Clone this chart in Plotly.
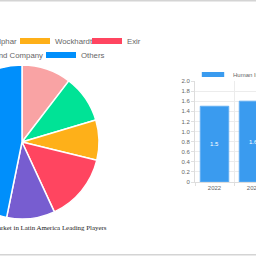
import plotly.graph_objects as go

# ---- data ----
pie_labels = ["Novo Nordisk", "Julphar", "Wockhardt", "Exir", "Eli Lilly and Company", "Others"]
pie_values = [10.4, 10.0, 8.4, 14.3, 10.1, 46.8]
pie_colors = ["#F9A3A4", "#00E396", "#FEB019", "#FF4560", "#775DD0", "#008FFB"]

bar_years = ["2022", "2023"]
bar_values = [1.5, 1.6]
bar_name = "Human Insulin Market"
y_tickvals = [0, 0.2, 0.4, 0.6, 0.8, 1.0, 1.2, 1.4, 1.6, 1.8, 2.0]
y_ticktext = ["0", "0.2", "0.4", "0.6", "0.8", "1.0", "1.2", "1.4", "1.6", "1.8", "2.0"]

title_text = "Human Insulin Market in Latin America Leading Players"

# ---- geometry (figure is wider and shifted left so the pie is cut like the reference) ----
S = 170
W = 256 + S
H = 256

def px(x):
    return (x + S) / W

def py(y):
    return (H - y) / H

# legend rows: which legend each entry goes to, and the spacing of entries
legend_keys = ["legend", "legend", "legend", "legend", "legend2", "legend2"]
legend_widths = [34, 19, 27, 20, 68, 30]

fig = go.Figure()

fig.add_trace(go.Pie(
    labels=pie_labels, values=pie_values, sort=False, direction="clockwise", rotation=0,
    marker=dict(colors=pie_colors, line=dict(color="white", width=1.5)),
    textinfo="none", hoverinfo="label+percent", showlegend=False,
    domain=dict(x=[px(-55), px(99)], y=[py(219), py(65)]),
))

for lab, col, key, lw in zip(pie_labels, pie_colors, legend_keys, legend_widths):
    fig.add_trace(go.Scatter(
        x=[None], y=[None], mode="lines", name=lab,
        line=dict(color=col, width=6), legendwidth=lw,
        legend=key, xaxis="x", yaxis="y", hoverinfo="skip",
    ))

fig.add_trace(go.Bar(
    x=bar_years, y=bar_values, name=bar_name, showlegend=False,
    marker=dict(color="#3A9BEF", line=dict(color="#62AEF2", width=1)),
    text=[f"{v:.1f}" for v in bar_values], textposition="inside",
    insidetextanchor="middle", textangle=0,
    textfont=dict(color="white", size=6, family="Liberation Sans"),
    width=0.73, cliponaxis=True,
))
fig.add_trace(go.Scatter(
    x=[None], y=[None], mode="markers", name=bar_name,
    marker=dict(symbol="line-ew", size=16, line=dict(color="#3A9BEF", width=5)),
    legend="legend3", hoverinfo="skip",
))

legend_font = dict(family="Liberation Sans", size=7.8, color="#666666")
fig.update_layout(
    width=W, height=H, autosize=False,
    margin=dict(l=0, r=0, t=0, b=0, autoexpand=False),
    paper_bgcolor="white", plot_bgcolor="white",
    legend=dict(orientation="h", x=px(-128), xanchor="left", y=py(41), yanchor="middle",
                font=legend_font, bgcolor="rgba(0,0,0,0)"),
    legend2=dict(orientation="h", x=px(-72), xanchor="left", y=py(55), yanchor="middle",
                 font=legend_font, bgcolor="rgba(0,0,0,0)"),
    legend3=dict(orientation="h", x=px(193), xanchor="left", y=py(74.5), yanchor="middle",
                 font=dict(family="Liberation Sans", size=6, color="#666666"),
                 bgcolor="rgba(0,0,0,0)"),
    xaxis=dict(domain=[px(195), 1.0], range=[-0.5, 1.064], type="category",
               tickson="boundaries", ticks="outside", ticklen=3, tickcolor="#e0e0e0",
               showgrid=True, gridcolor="#ececec", gridwidth=1,
               showline=True, linecolor="#dddddd", linewidth=1,
               tickfont=dict(family="Liberation Sans", size=6, color="#666666"),
               fixedrange=True),
    yaxis=dict(domain=[py(182), py(81)], range=[0, 2.0],
               tickvals=y_tickvals, ticktext=y_ticktext,
               ticks="outside", ticklen=3, tickcolor="#e0e0e0",
               showgrid=True, gridcolor="#ececec", gridwidth=1, zeroline=False,
               showline=True, linecolor="#dddddd", linewidth=1,
               tickfont=dict(family="Liberation Sans", size=6, color="#666666"),
               fixedrange=True),
    bargap=0.27,
    annotations=[dict(text=title_text, x=px(108.5), y=py(227), xref="paper", yref="paper",
                      xanchor="right", yanchor="middle", showarrow=False,
                      font=dict(family="Liberation Serif", size=6.9, color="#222222"))],
    shapes=[
        dict(type="line", xref="paper", yref="paper", x0=0, x1=1, y0=py(0.8), y1=py(0.8),
             line=dict(color="#d4d4d4", width=1.5)),
        dict(type="line", xref="paper", yref="paper", x0=0, x1=1, y0=py(254.8), y1=py(254.8),
             line=dict(color="#d4d4d4", width=1.5)),
    ],
)

post = ("var d=document.getElementById('{plot_id}');"
        "d.style.marginLeft='-%dpx';"
        "document.documentElement.style.overflow='hidden';"
        "document.body.style.overflow='hidden';"
        "document.body.style.margin='0';" % S)
fig.write_html("out.html", config={"responsive": False},
               default_width="%dpx" % W, default_height="%dpx" % H,
               post_script=post)
